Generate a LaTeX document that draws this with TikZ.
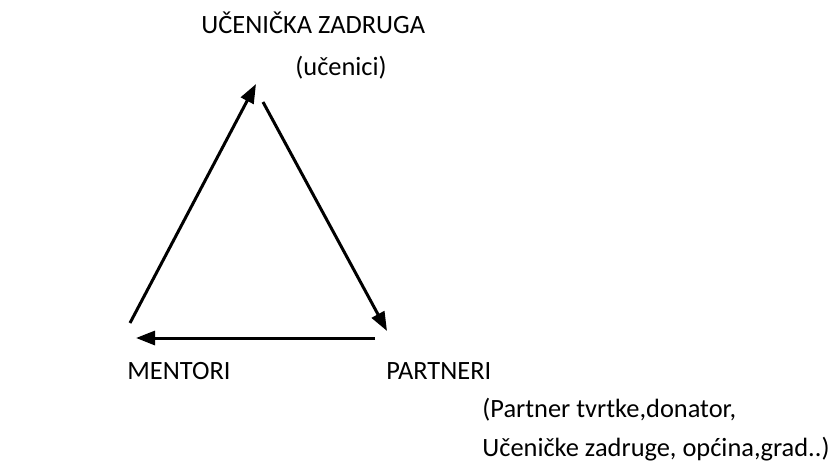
\documentclass[tikz,border=0pt]{standalone}
\usepackage{fontspec}
\setmainfont{Carlito}
\usetikzlibrary{arrows.meta,positioning}

\begin{document}
\begin{tikzpicture}[x=0.5pt, y=-0.5pt]
    \tikzset{
        label/.style={anchor=base west, inner sep=0pt, font=\fontsize{13.2}{16}\selectfont},
        myarrow/.style={draw, line width=1.5pt, -{Triangle[length=9.5pt, width=7pt]}},
    }
    \useasboundingbox (0,0) rectangle (834,466);

    \node[label] (zadruga) at (201,33) {UČENIČKA ZADRUGA};
    \node[label] (ucenici) at (295,75) {(učenici)};
    \node[label] (mentori) at (127,379) {MENTORI};
    \node[label] (partneri) at (386,379) {PARTNERI};
    \node[label] (opis1) at (482,417) {(Partner tvrtke,donator,};
    \node[label] (opis2) at (482,456) {Učeničke zadruge, općina,grad..)};

    % krajevi strelica
    \coordinate (mentoriGore) at (130,323);
    \coordinate (zadrugaLijevo) at (256,84);
    \coordinate (zadrugaDesno) at (263,102);
    \coordinate (partneriGore) at (387,331);
    \coordinate (partneriLijevo) at (375,338);
    \coordinate (mentoriDesno) at (136,338);

    \draw[myarrow] (mentoriGore) -- (zadrugaLijevo);
    \draw[myarrow] (zadrugaDesno) -- (partneriGore);
    \draw[myarrow] (partneriLijevo) -- (mentoriDesno);
\end{tikzpicture}
\end{document}
